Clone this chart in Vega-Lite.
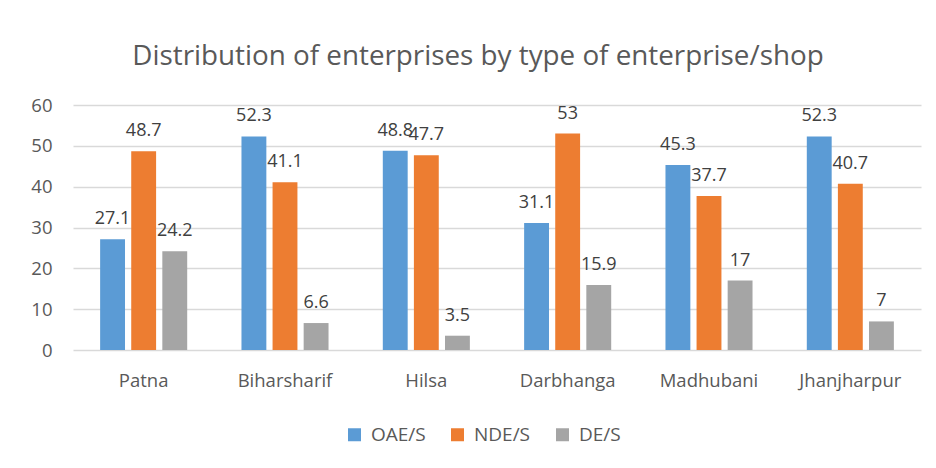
{
  "$schema": "https://vega.github.io/schema/vega-lite/v6.json",
  "autosize": {"type": "none"},
  "width": 848,
  "height": 245,
  "padding": {"left": 73, "top": 105, "right": 15, "bottom": 118},
  "background": "white",
  "title": {
    "text": "Distribution of enterprises by type of enterprise/shop",
    "font": "Open Sans",
    "fontSize": 27.8,
    "fontWeight": "normal",
    "color": "#595959",
    "anchor": "middle",
    "offset": 25,
    "dx": -19
  },
  "data": {
    "values": [
      {"city": "Patna", "type": "OAE/S", "value": 27.1},
      {"city": "Patna", "type": "NDE/S", "value": 48.7},
      {"city": "Patna", "type": "DE/S", "value": 24.2},
      {"city": "Biharsharif", "type": "OAE/S", "value": 52.3},
      {"city": "Biharsharif", "type": "NDE/S", "value": 41.1},
      {"city": "Biharsharif", "type": "DE/S", "value": 6.6},
      {"city": "Hilsa", "type": "OAE/S", "value": 48.8},
      {"city": "Hilsa", "type": "NDE/S", "value": 47.7},
      {"city": "Hilsa", "type": "DE/S", "value": 3.5},
      {"city": "Darbhanga", "type": "OAE/S", "value": 31.1},
      {"city": "Darbhanga", "type": "NDE/S", "value": 53},
      {"city": "Darbhanga", "type": "DE/S", "value": 15.9},
      {"city": "Madhubani", "type": "OAE/S", "value": 45.3},
      {"city": "Madhubani", "type": "NDE/S", "value": 37.7},
      {"city": "Madhubani", "type": "DE/S", "value": 17},
      {"city": "Jhanjharpur", "type": "OAE/S", "value": 52.3},
      {"city": "Jhanjharpur", "type": "NDE/S", "value": 40.7},
      {"city": "Jhanjharpur", "type": "DE/S", "value": 7}
    ]
  },
  "encoding": {
    "x": {
      "field": "city",
      "type": "nominal",
      "sort": null,
      "scale": {"paddingInner": 0.384, "paddingOuter": 0.192},
      "axis": {
        "title": null,
        "labelAngle": 0,
        "labelFont": "Open Sans",
        "labelFontSize": 18.5,
        "labelColor": "#595959",
        "labelPadding": 21,
        "ticks": false,
        "domain": false
      }
    },
    "xOffset": {
      "field": "type",
      "type": "nominal",
      "sort": ["OAE/S", "NDE/S", "DE/S"],
      "scale": {"paddingInner": 0.2, "paddingOuter": 0}
    },
    "y": {
      "field": "value",
      "type": "quantitative",
      "scale": {"domain": [0, 60], "nice": false},
      "axis": {
        "title": null,
        "values": [0, 10, 20, 30, 40, 50, 60],
        "labelFont": "Open Sans",
        "labelFontSize": 18.5,
        "labelColor": "#595959",
        "labelPadding": 21,
        "ticks": false,
        "tickSize": 0,
        "domain": false,
        "gridColor": "#D9D9D9",
        "gridWidth": 1.5
      }
    }
  },
  "layer": [
    {
      "mark": {"type": "bar"},
      "encoding": {
        "color": {
          "field": "type",
          "type": "nominal",
          "sort": ["OAE/S", "NDE/S", "DE/S"],
          "scale": {"domain": ["OAE/S", "NDE/S", "DE/S"], "range": ["#5B9BD5", "#ED7D31", "#A5A5A5"]},
          "legend": {
            "title": null,
            "orient": "none",
            "legendX": 272,
            "legendY": 320,
            "direction": "horizontal",
            "symbolType": "square",
            "symbolSize": 169,
            "symbolStrokeWidth": 0,
            "labelFont": "Open Sans",
            "labelFontSize": 19,
            "labelColor": "#595959",
            "labelOffset": 7,
            "columnPadding": 22
          }
        }
      }
    },
    {
      "mark": {"type": "text", "baseline": "alphabetic", "dy": -15, "font": "Open Sans", "fontSize": 18, "color": "#404040"},
      "encoding": {
        "text": {"field": "value", "type": "quantitative"}
      }
    }
  ],
  "config": {
    "view": {"stroke": null}
  }
}
